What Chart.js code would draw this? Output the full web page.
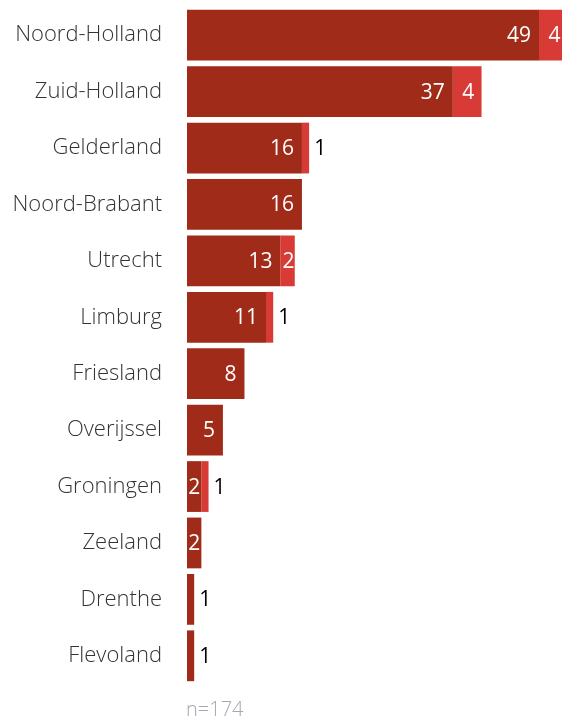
<!DOCTYPE html>
<html><head><meta charset="utf-8">
<script src="https://cdn.jsdelivr.net/npm/chart.js@4/dist/chart.umd.min.js"></script>
<style>html,body{margin:0;padding:0;background:#fff}#wrap{width:562px;height:719px;position:relative}</style>
</head><body><div id="wrap"><canvas id="c" width="562" height="719"></canvas></div>
<script>
const categories = ["Noord-Holland","Zuid-Holland","Gelderland","Noord-Brabant","Utrecht","Limburg","Friesland","Overijssel","Groningen","Zeeland","Drenthe","Flevoland"];
const mainValues = [49,37,16,16,13,11,8,5,2,2,1,1];
const extraValues = [4,4,1,0,2,1,0,0,1,0,0,0];
const footnote = "n=174";

const FONT = "'Open Sans', sans-serif";
const valueLabels = {
  id: 'valueLabels',
  afterDatasetsDraw(chart) {
    const ctx = chart.ctx;
    ctx.save();
    ctx.textBaseline = 'middle';
    const m0 = chart.getDatasetMeta(0), m1 = chart.getDatasetMeta(1);
    const inside = "400 21px " + FONT, outside = "500 21px " + FONT;
    categories.forEach((c, i) => {
      const b0 = m0.data[i], b1 = m1.data[i];
      const v0 = mainValues[i], v1 = extraValues[i];
      const y = b0.y + 1;
      {
        ctx.font = inside;
        const t = String(v0), tw = ctx.measureText(t).width;
        const w = b0.x - b0.base;
        if (w >= tw + 18) { ctx.fillStyle = '#fff'; ctx.textAlign = 'right'; ctx.fillText(t, b0.x - 8, y); }
        else if (w >= tw - 2) { ctx.fillStyle = '#fff'; ctx.textAlign = 'center'; ctx.fillText(t, (b0.x + b0.base) / 2, y); }
        else { ctx.font = outside; ctx.fillStyle = '#000'; ctx.textAlign = 'left'; ctx.fillText(t, b0.x + 5, y); }
      }
      if (v1 > 0) {
        ctx.font = inside;
        const t = String(v1), tw = ctx.measureText(t).width;
        const w = b1.x - b1.base;
        if (w >= tw - 2) { ctx.fillStyle = '#fff'; ctx.textAlign = 'center'; ctx.fillText(t, (b1.x + b1.base) / 2 + 1, y); }
        else { ctx.font = outside; ctx.fillStyle = '#000'; ctx.textAlign = 'left'; ctx.fillText(t, b1.x + 5, y); }
      }
    });
    ctx.font = "300 20px " + FONT;
    ctx.fillStyle = '#a6a6b4';
    ctx.textAlign = 'left';
    ctx.fillText(footnote, chart.chartArea.left - 1, 710);
    ctx.restore();
  }
};

new Chart(document.getElementById('c'), {
  type: 'bar',
  data: {
    labels: categories,
    datasets: [
      { data: mainValues, backgroundColor: '#a02b19', borderWidth: 0, barPercentage: 0.9, categoryPercentage: 1 },
      { data: extraValues, backgroundColor: '#d83b35', borderWidth: 0, barPercentage: 0.9, categoryPercentage: 1 }
    ]
  },
  options: {
    indexAxis: 'y',
    responsive: false,
    animation: false,
    layout: { padding: { top: 7, bottom: 35, left: 0, right: 0 } },
    plugins: { legend: { display: false }, tooltip: { enabled: false } },
    scales: {
      x: { stacked: true, display: false, min: 0, max: 52.2 },
      y: {
        stacked: true,
        grid: { display: false, drawTicks: false },
        border: { display: false },
        ticks: { color: '#333', font: { family: FONT, size: 22, weight: '300' }, padding: 25, autoSkip: false },
        afterFit(scale) { scale.width = 187; scale.paddingTop = 0; scale.paddingBottom = 0; }
      }
    }
  },
  plugins: [valueLabels]
});
</script></body></html>
